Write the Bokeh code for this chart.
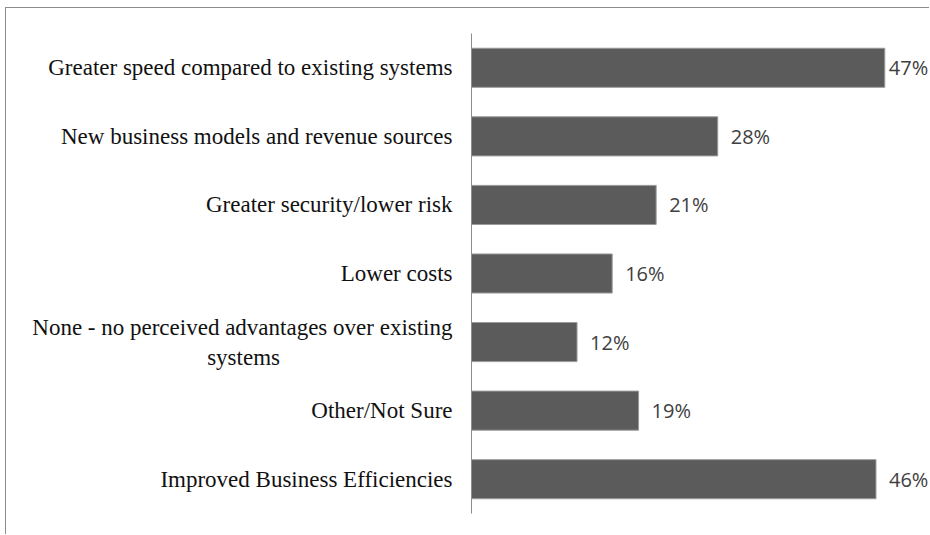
from bokeh.plotting import figure
from bokeh.models import ColumnDataSource, LabelSet, Range1d, FactorRange
from bokeh.embed import file_html
from bokeh.resources import INLINE
from bokeh.core.properties import value

NBSP = "\u00a0"
categories = [
    "Greater speed compared to existing systems",
    "New business models and revenue sources",
    "Greater security/lower risk",
    "Lower costs",
    "None - no perceived advantages over existing\nsystems" + NBSP * 30,
    "Other/Not Sure",
    "Improved Business Efficiencies",
]
values = [47, 28, 21, 16, 12, 19, 46]
value_labels = ["47%", "28%", "21%", "16%", "12%", "19%", "46%"]

x_max = 52.2
offsets = [4 if v == max(values) else 13 for v in values]

src = ColumnDataSource(dict(cat=categories, val=values, lab=value_labels, off=offsets))

p = figure(
    width=924, height=527,
    y_range=FactorRange(*reversed(categories)),
    x_range=Range1d(0, x_max),
    output_backend="svg", toolbar_location=None,
    min_border_left=465, min_border_right=0, min_border_top=25, min_border_bottom=22,
)
p.styles = {
    "margin-left": "5px", "margin-top": "7px",
    "border-left": "1px solid #8c8c8c", "border-top": "1px solid #8c8c8c",
}
p.outline_line_color = None
p.background_fill_color = "white"
p.border_fill_color = "white"

p.hbar(y="cat", right="val", left=0, height=0.57, source=src,
       fill_color="#5b5b5b", line_color="#9a9a9a", line_width=1)

p.add_layout(LabelSet(x="val", y="cat", text="lab", x_offset="off", source=src,
                      text_baseline="middle", text_align="left",
                      text_font=value("Open Sans"), text_font_size="20px",
                      text_color="#404040"))

p.xaxis.visible = False
p.xgrid.visible = False
p.ygrid.visible = False
ax = p.yaxis[0]
ax.axis_line_color = "#8c8c8c"
ax.axis_line_width = 1
ax.major_tick_line_color = None
ax.minor_tick_line_color = None
ax.major_label_standoff = 13
ax.major_label_text_font = "Liberation Serif"
ax.major_label_text_font_size = "23px"
ax.major_label_text_color = "#111111"

open("out.html", "w").write(file_html(p, INLINE))
